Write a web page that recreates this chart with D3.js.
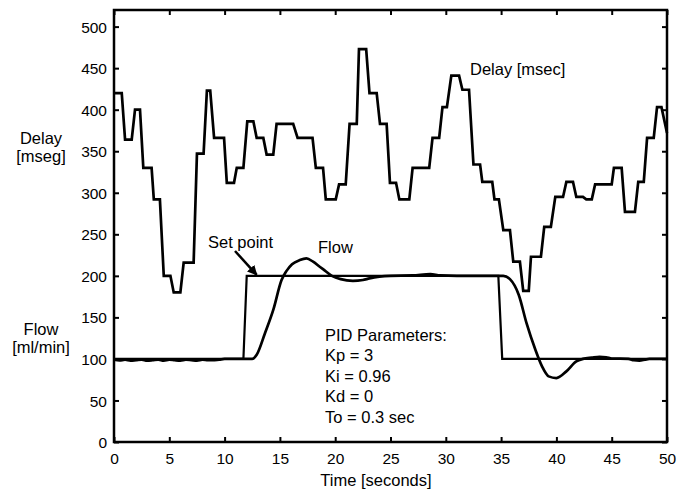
<!DOCTYPE html>
<html lang="en">
<head>
<meta charset="utf-8">
<title>PID flow / delay</title>
<script src="https://cdn.jsdelivr.net/npm/d3@7/dist/d3.min.js"></script>
<style>
  body { margin: 0; background: #fff; }
  svg text { font-family: "Liberation Sans", Arial, sans-serif; fill: #000; }
</style>
</head>
<body>
<div id="chart"></div>
<script>
// Delay [msec] (step-like trace)
var delayT = [0, 0.7, 1.0, 1.6, 1.9, 2.35, 2.65, 3.4, 3.6, 4.15, 4.5, 5.1, 5.4, 6.0, 6.3, 7.2,
  7.5, 8.1, 8.4, 8.7, 9.05, 9.95, 10.2, 10.85, 11.1, 11.7, 12.05, 12.6, 12.9, 13.5, 13.8, 14.4,
  14.7, 16.2, 16.6, 17.95, 18.25, 18.9, 19.15, 20.05, 20.35, 20.95, 21.3, 21.95, 22.15, 22.8,
  23.1, 23.75, 24.05, 24.65, 24.95, 25.5, 25.8, 26.7, 27.0, 28.5, 28.8, 29.4, 29.7, 30.1,
  30.5, 31.2, 31.5, 32.1, 32.5, 33.1, 33.3, 34.2, 34.4, 34.8, 35.2, 35.8, 36.1, 36.7, 37.0,
  37.5, 37.7, 38.6, 38.9, 39.5, 39.9, 40.6, 40.9, 41.5, 41.8, 42.4, 42.7, 43.2, 43.5, 45.0,
  45.2, 45.9, 46.2, 47.1, 47.4, 47.9, 48.2, 48.8, 49.1, 49.5, 50];
var delayV = [420, 420, 364, 364, 400, 400, 330, 330, 292, 292, 200, 200, 180, 180, 216, 216,
  347, 347, 423, 423, 366, 366, 312, 312, 330, 330, 386, 386, 366, 366, 346, 346,
  383, 383, 366, 366, 330, 330, 292, 292, 310, 310, 383, 383, 473, 473,
  420, 420, 383, 383, 312, 312, 292, 292, 330, 330, 366, 366, 403, 403,
  441, 441, 424, 424, 334, 334, 313, 313, 292, 292, 255, 255, 217, 217, 182,
  182, 223, 223, 259, 259, 295, 295, 313, 313, 295, 295, 292, 292, 310, 310,
  330, 330, 277, 277, 313, 313, 366, 366, 403, 403, 372];

// Flow [ml/min]
var flowT = [0, 0.5, 1, 1.5, 2, 2.5, 3, 3.5, 4, 4.5, 5, 5.5, 6, 6.5, 7, 7.5, 8, 8.5, 9, 9.5,
  10, 12.5, 12.9, 13.65, 14.4, 15.15, 15.6, 16.1, 16.8, 17.4, 18.0, 18.6, 18.9, 19.7, 20.5,
  21.6, 22.5, 23.1, 24, 25, 27, 28.6, 29.5, 31, 34, 35.2, 35.8, 36.6, 37.3, 38.1, 38.7,
  39.3, 40.0, 40.9, 41.8, 42.4, 43.2, 43.9, 44.5, 45, 46.5, 47.0, 47.5, 48.0, 48.4, 50];
var flowV = [99, 98.3, 99, 98, 98.6, 99.2, 98, 98.5, 99.2, 98, 99, 98.4, 98, 99, 98.5, 98, 99,
  98.4, 98.6, 99, 100, 100, 105, 131, 159, 195, 206, 214, 219, 221, 217, 211, 208, 200, 196,
  194, 195, 197, 199, 200, 200.5, 202, 200.5, 200, 200, 200, 196, 177, 143, 111, 91,
  79, 77, 85, 97, 100, 101.5, 102.5, 102, 100.5, 100, 98.5, 98, 99, 100, 100];

// Set point
var setT = [0, 11.7, 12.0, 34.75, 35.1, 50];
var setV = [100, 100, 200, 200, 100, 100];

var xTicks = [0, 5, 10, 15, 20, 25, 30, 35, 40, 45, 50];
var yTicks = [0, 50, 100, 150, 200, 250, 300, 350, 400, 450, 500];
var pidLines = ["PID Parameters:", "Kp = 3", "Ki = 0.96", "Kd = 0", "To = 0.3 sec"];

var W = 687, H = 494;
var mLeft = 114, mRight = 667, mTop = 10, mBottom = 442;

var svg = d3.select("#chart").append("svg")
  .attr("width", W).attr("height", H);

svg.append("rect").attr("width", W).attr("height", H).attr("fill", "#fff");

var x = d3.scaleLinear().domain([0, 50]).range([mLeft, mRight]);
var y = d3.scaleLinear().domain([0, 520]).range([mBottom, mTop]);

// axes, ticks inward on all four sides
var gx = svg.append("g").attr("transform", "translate(0," + mBottom + ")")
  .call(d3.axisBottom(x).tickValues(xTicks).tickSizeInner(-5).tickSizeOuter(0).tickPadding(11));
var gy = svg.append("g").attr("transform", "translate(" + mLeft + ",0)")
  .call(d3.axisLeft(y).tickValues(yTicks).tickSizeInner(-5).tickSizeOuter(0).tickPadding(7));
var gt = svg.append("g").attr("transform", "translate(0," + mTop + ")")
  .call(d3.axisTop(x).tickValues(xTicks).tickSizeInner(-5).tickSizeOuter(0).tickFormat(""));
var gr = svg.append("g").attr("transform", "translate(" + mRight + ",0)")
  .call(d3.axisRight(y).tickValues(yTicks).tickSizeInner(-5).tickSizeOuter(0).tickFormat(""));

[gx, gy, gt, gr].forEach(function(g) {
  g.select(".domain").remove();
  g.selectAll(".tick line").attr("stroke", "#000").attr("stroke-width", 2);
  g.selectAll(".tick text").style("font-size", "15.5px")
    .style("font-family", "'Liberation Sans', Arial, sans-serif").attr("fill", "#000");
});
gy.selectAll(".tick text").attr("dy", "0.36em");

svg.append("rect")
  .attr("x", mLeft).attr("y", mTop)
  .attr("width", mRight - mLeft).attr("height", mBottom - mTop)
  .attr("fill", "none").attr("stroke", "#000").attr("stroke-width", 2.5);

function series(T, V) {
  return T.map(function(t, i) { return [t, V[i]]; });
}

var lineLin = d3.line().x(function(d) { return x(d[0]); }).y(function(d) { return y(d[1]); });
var lineSmooth = d3.line().curve(d3.curveMonotoneX)
  .x(function(d) { return x(d[0]); }).y(function(d) { return y(d[1]); });

svg.append("path").datum(series(setT, setV)).attr("d", lineLin)
  .attr("fill", "none").attr("stroke", "#000").attr("stroke-width", 2.2);

svg.append("path").datum(series(flowT, flowV)).attr("d", lineSmooth)
  .attr("fill", "none").attr("stroke", "#000").attr("stroke-width", 2.7);

svg.append("path").datum(series(delayT, delayV)).attr("d", lineLin)
  .attr("fill", "none").attr("stroke", "#000").attr("stroke-width", 2.7)
  .attr("stroke-linejoin", "miter");

// annotations
var fs = "16.5px";
svg.append("text").attr("x", 470).attr("y", 75).style("font-size", fs).text("Delay [msec]");
svg.append("text").attr("x", 318).attr("y", 253).style("font-size", fs).text("Flow");
svg.append("text").attr("x", 208).attr("y", 248).style("font-size", fs).text("Set point");

svg.append("defs").append("marker")
  .attr("id", "arrow").attr("viewBox", "0 0 10 10")
  .attr("refX", 9).attr("refY", 5)
  .attr("markerWidth", 4).attr("markerHeight", 4)
  .attr("orient", "auto")
  .append("path").attr("d", "M0,0 L10,5 L0,10 z").attr("fill", "#000");

svg.append("line")
  .attr("x1", 235).attr("y1", 251).attr("x2", x(12.9)).attr("y2", y(200) - 1)
  .attr("stroke", "#000").attr("stroke-width", 2.5)
  .attr("marker-end", "url(#arrow)");

svg.selectAll(".pid").data(pidLines).enter().append("text")
  .attr("class", "pid")
  .attr("x", 325)
  .attr("y", function(d, i) { return 341 + i * 20.4; })
  .style("font-size", fs)
  .text(function(d) { return d; });

// axis titles
svg.append("text").attr("x", 376).attr("y", 486).attr("text-anchor", "middle")
  .style("font-size", fs).text("Time [seconds]");

var ylab = [["Delay", 144], ["[mseg]", 162], ["Flow", 335], ["[ml/min]", 353]];
ylab.forEach(function(l) {
  svg.append("text").attr("x", 41).attr("y", l[1]).attr("text-anchor", "middle")
    .style("font-size", fs).text(l[0]);
});
</script>
</body>
</html>
